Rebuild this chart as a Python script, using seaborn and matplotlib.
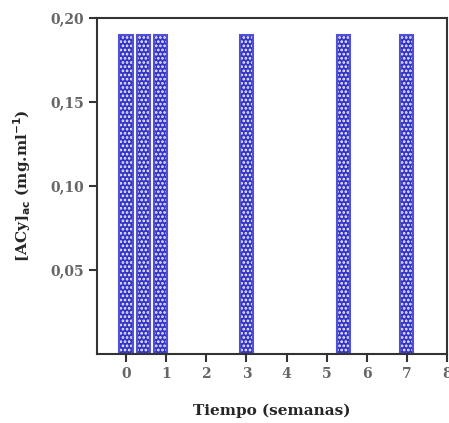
import matplotlib
matplotlib.use("Agg")
import matplotlib.pyplot as plt
import seaborn as sns
import pandas as pd

weeks = [0, 3/7, 6/7, 3, 38/7, 7]
acy = [0.19, 0.19, 0.19, 0.19, 0.19, 0.19]
xticks = [0, 1, 2, 3, 4, 5, 6, 7, 8]
yticks = [0.05, 0.10, 0.15, 0.20]
ytick_labels = ["0,05", "0,10", "0,15", "0,20"]

sns.set_style("ticks")
plt.rcParams['font.family'] = ['DejaVu Serif']
plt.rcParams['hatch.linewidth'] = 1.3

df = pd.DataFrame({"t": weeks, "v": acy})
fig = plt.figure(figsize=(4.49, 4.23), dpi=100)
ax = fig.add_axes([0.216, 0.163, 0.7795, 0.794])
sns.barplot(data=df, x="t", y="v", native_scale=True, width=0.77,
            color="#3535c8", saturation=1, ax=ax)
for p in list(ax.patches):
    p.set_facecolor("#3333c4")
    p.set_edgecolor("#f4f4ff")
    p.set_hatch("....")
    p.set_linewidth(0)
    r = plt.Rectangle((p.get_x(), p.get_y()), p.get_width(), p.get_height(),
                      fill=False, edgecolor="#5050d2", linewidth=1.5)
    ax.add_patch(r)

ax.set_xlim(-0.725, 8)
ax.set_ylim(0, 0.2)
ax.set_xticks(xticks)
ax.set_xticklabels([str(t) for t in xticks])
ax.set_yticks(yticks)
ax.set_yticklabels(ytick_labels)
ax.tick_params(axis='both', direction='out', length=6, width=1.5,
               colors='#333333', labelcolor='#666666', labelsize=10)
for lab in ax.get_yticklabels() + ax.get_xticklabels():
    lab.set_fontweight('bold')
for s in ax.spines.values():
    s.set_visible(True)
    s.set_color('#333333')
    s.set_linewidth(1.5)
ax.set_xlabel("Tiempo (semanas)", fontsize=11, fontweight='bold', labelpad=16)
ax.set_ylabel(r"[ACy]$_{\mathbf{ac}}$ (mg.ml$^{\mathbf{-1}}$)", fontsize=11,
              fontweight='bold', labelpad=12)
fig.savefig("out.png", dpi=100)
